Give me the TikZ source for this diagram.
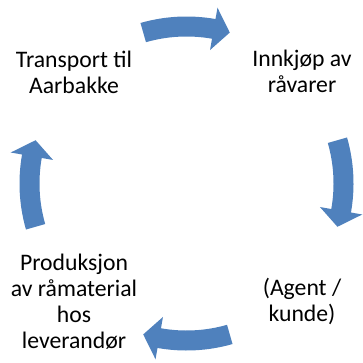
\documentclass[tikz,border=0pt]{standalone}
\usepackage{fontspec}
\setmainfont{Carlito}
\definecolor{arrowblue}{RGB}{79,129,189}
\tikzset{
  steptext/.style={align=center,text=black,font=\fontsize{23.7}{26}\selectfont},
  cyclearrow/.style={fill=arrowblue}
}
\begin{document}
\begin{tikzpicture}[x=1pt,y=1pt]
  \useasboundingbox (0,0) rectangle (363,362);
  \coordinate (c) at (186.5,178.5);
  % arrows round the cycle, clockwise
  \foreach \a in {90,0,-90,180}{
    \fill[cyclearrow] ([shift={(c)}]{\a+16}:167) arc[start angle=\a+16,end angle=\a-10,radius=167]
      -- ([shift={(c)}]{\a-10}:178.5) -- ([shift={(c)}]{\a-16}:157)
      -- ([shift={(c)}]{\a-10}:135.5) -- ([shift={(c)}]{\a-10}:147)
      arc[start angle=\a-10,end angle=\a+16,radius=147] -- cycle;
  }
  \node[steptext] (transport) at (74,290) {Transport til\\Aarbakke};
  \node[steptext] (innkjop) at (302,291) {Innkjøp av\\råvarer};
  \node[steptext] (agent) at (302,61) {(Agent /\\kunde)};
  \node[steptext] (produksjon) at (74,60) {Produksjon\\av råmaterial\\hos\\leverandør};
\end{tikzpicture}
\end{document}
